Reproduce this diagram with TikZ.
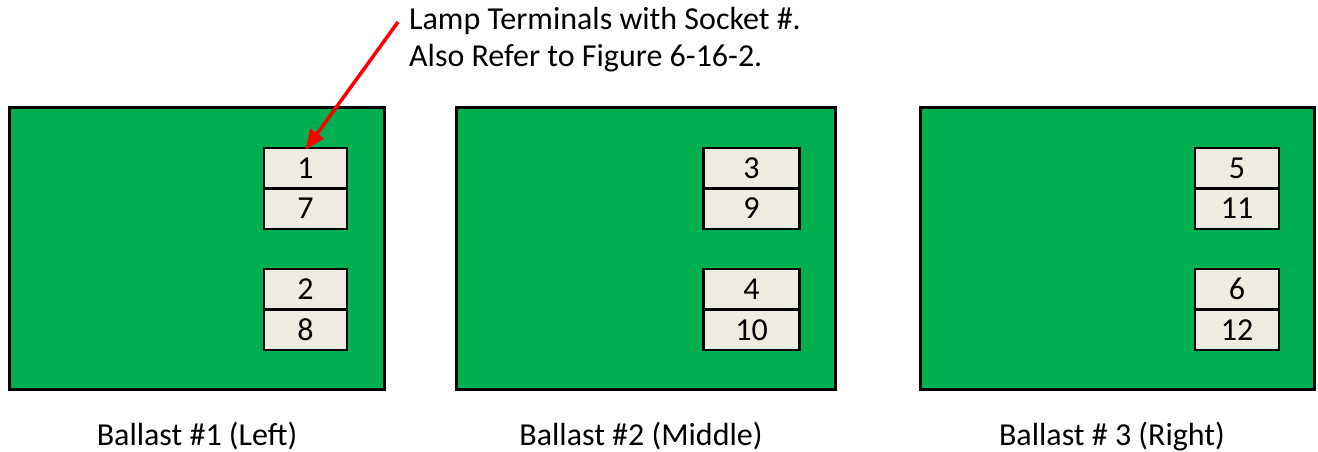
\documentclass[tikz,border=0pt]{standalone}
\usepackage{fontspec}
\setmainfont{Carlito}
\usetikzlibrary{arrows.meta,positioning}
\definecolor{ballastGreen}{RGB}{0,176,80}
\definecolor{socketTan}{RGB}{238,236,225}
\definecolor{calloutRed}{RGB}{255,0,0}

\begin{document}
\begin{tikzpicture}[x=1pt, y=-1pt, every node/.style={font=\fontsize{32}{37.5}\selectfont},
  ballast/.style={draw=black, line width=3pt, fill=ballastGreen, inner sep=0pt, minimum height=282pt},
  socket/.style={draw=black, line width=2.5pt, fill=socketTan, inner sep=0pt, outer sep=0pt, minimum height=40.5pt},
  caption/.style={anchor=base, inner sep=0pt}]
\useasboundingbox (0,0) rectangle (1318,452);

% ballast bodies
\node[ballast, minimum width=375pt] (bal1) at (197,248.5) {};
\node[ballast, minimum width=379pt] (bal2) at (645.5,248.5) {};
\node[ballast, minimum width=394pt] (bal3) at (1117,248.5) {};

% lamp terminals, socket numbers
\node[socket, minimum width=83pt] (s1) at (305.5,168) {1};
\node[socket, minimum width=83pt, below=0pt of s1] (s7) {7};
\node[socket, minimum width=83pt, below=40.3pt of s7] (s2) {2};
\node[socket, minimum width=83pt, below=0pt of s2] (s8) {8};

\node[socket, minimum width=96pt] (s3) at (751.5,168) {3};
\node[socket, minimum width=96pt, below=0pt of s3] (s9) {9};
\node[socket, minimum width=96pt, below=40.3pt of s9] (s4) {4};
\node[socket, minimum width=96pt, below=0pt of s4] (s10) {10};

\node[socket, minimum width=84pt] (s5) at (1237,168) {5};
\node[socket, minimum width=84pt, below=0pt of s5] (s11) {11};
\node[socket, minimum width=84pt, below=40.3pt of s11] (s6) {6};
\node[socket, minimum width=84pt, below=0pt of s6] (s12) {12};

% captions
\node[caption] (lbl1) at (197,445) {Ballast \#1 (Left)};
\node[caption] (lbl2) at (641,445) {Ballast \#2 (Middle)};
\node[caption] (lbl3) at (1112,445) {Ballast \# 3 (Right)};

% callout
\node[anchor=base west, inner sep=0pt, align=left] (note) at (409,66.7) {Lamp Terminals with Socket \#.\\Also Refer to Figure 6-16-2.};
\coordinate (noteTail) at (398,22);
\draw[-{Triangle[length=20pt, width=16pt]}, line width=3.5pt, color=calloutRed] (noteTail) -- ([yshift=-2pt]s1.north);
\end{tikzpicture}
\end{document}
